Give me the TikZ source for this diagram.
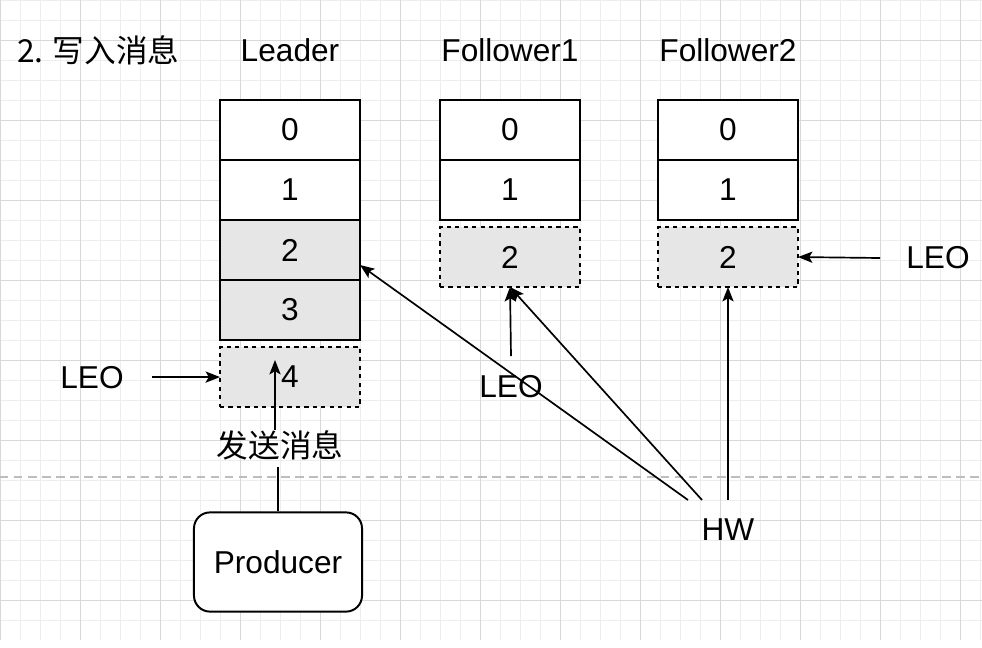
\documentclass[tikz,border=0pt]{standalone}
\usepackage{fontspec}
\setmainfont{Liberation Sans}
\newfontfamily\cjk{Noto Sans CJK SC}
\usetikzlibrary{arrows.meta, positioning}
\definecolor{cellgray}{HTML}{E6E6E6}
\definecolor{gridminor}{HTML}{EDEDED}
\definecolor{gridmajor}{HTML}{D8D8D8}
\definecolor{sepgray}{HTML}{BDBDBD}

\begin{document}
\begin{tikzpicture}[
      x=0.025cm, y=-0.025cm,
      txt/.style={font=\fontsize{22.5}{26}\selectfont, inner sep=2pt},
      cell/.style={rectangle, draw=black, line width=1.4pt, fill=white, outer sep=0pt, minimum width=3.5cm, minimum height=1.5cm, txt},
      logcell/.style={cell, fill=cellgray},
      newcell/.style={cell, fill=cellgray, dashed},
      client/.style={rectangle, rounded corners=0.4cm, draw=black, line width=1.4pt, fill=white, minimum width=4.2cm, minimum height=2.48cm, txt},
      arrow/.style={-{Stealth[length=0.36cm, width=0.28cm, inset=0.08cm]}, line width=1.2pt},
      link/.style={line width=1.2pt},
    ]
    % background grid
    \fill[white] (0,0) rectangle (982,647);
    \useasboundingbox (0,0) rectangle (982,647);
    \draw[gridminor, line width=0.6pt, step=0.5cm] (0,0) grid (982,640);
    \draw[gridmajor, line width=0.6pt, step=2cm, shift={(0,40)}] (0,-40) grid (982,600);
    \draw[sepgray, line width=1pt, dash pattern=on 6pt off 4pt] (0,477) -- (982,477);

    % titles
    \node[txt, anchor=west] (title) at (14,50) {\cjk 2. 写入消息};
    \node[txt] (leader) at (290,50) {Leader};
    \node[txt] (follower1) at (510,50) {Follower1};
    \node[txt] (follower2) at (728,50) {Follower2};

    % leader log
    \node[cell] (l0) at (290,130) {0};
    \node[cell, below=0pt of l0] (l1) {1};
    \node[logcell, below=0pt of l1] (l2) {2};
    \node[logcell, below=0pt of l2] (l3) {3};
    \node[newcell, below=0.175cm of l3] (l4) {4};

    % follower logs
    \node[cell] (fa0) at (510,130) {0};
    \node[cell, below=0pt of fa0] (fa1) {1};
    \node[newcell, below=0.175cm of fa1] (fa2) {2};

    \node[cell] (fb0) at (728,130) {0};
    \node[cell, below=0pt of fb0] (fb1) {1};
    \node[newcell, below=0.175cm of fb1] (fb2) {2};

    % producer
    \node[client] (prod) at (278,562) {Producer};
    \node[txt] (send) at (280,445) {\cjk 发送消息};
    \coordinate (sendin) at (275,360);

    % LEO markers
    \node[txt] (leol) at (92,378) {LEO};
    \coordinate (leols) at (152,377);
    \node[txt] (leoa) at (511,387) {LEO};
    \coordinate (leoas) at (511,356);
    \node[txt] (leob) at (938,258) {LEO};
    \coordinate (leobs) at (880,258);

    % HW marker
    \node[txt] (hw) at (728,530) {HW};
    \coordinate (hwl) at (688,500);
    \coordinate (hwa) at (702,500);
    \coordinate (hwb) at (728,500);
    \coordinate (l2in) at (360,265);

    \draw[link] (prod.north) -- (278,467);
    \draw[arrow] (275,430) -- (sendin);
    \draw[arrow] (leols) -- (l4.west);
    \draw[arrow] (leoas) -- (fa2.south);
    \draw[arrow] (leobs) -- (fb2.east);
    \draw[arrow] (hwl) -- (l2in);
    \draw[arrow] (hwa) -- (fa2.south);
    \draw[arrow] (hwb) -- (fb2.south);
  \end{tikzpicture}
\end{document}
